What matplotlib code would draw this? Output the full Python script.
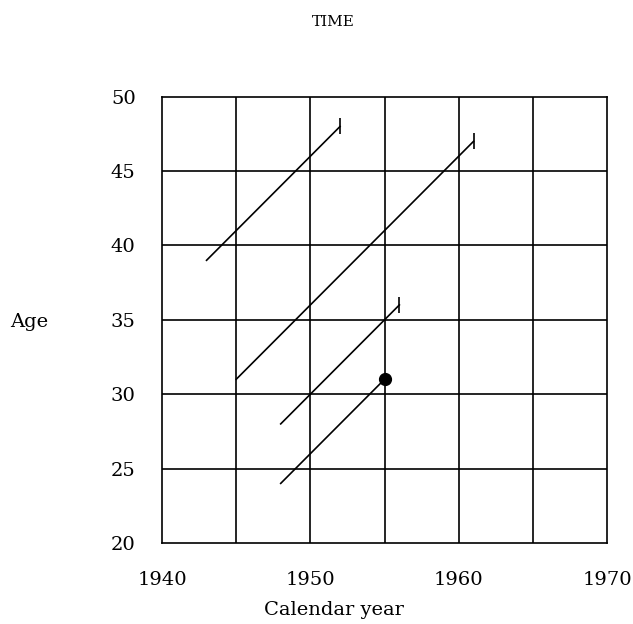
import matplotlib
matplotlib.use("Agg")
import matplotlib.pyplot as plt

# Lexis diagram data: life lines (entry year, entry age) -> (exit year, exit age)
entry_year = [1943, 1945, 1948, 1948]
entry_age = [39, 31, 28, 24]
exit_year = [1952, 1961, 1956, 1955]
exit_age = [48, 47, 36, 31]
exit_event = [False, False, False, True]  # True = event (dot), False = censored (tick)

xticks = [1940, 1950, 1960, 1970]
yticks = [20, 25, 30, 35, 40, 45, 50]
grid_x = [1945, 1950, 1955, 1960, 1965]

plt.rcParams['font.family'] = ['DejaVu Serif']

fig = plt.figure(figsize=(6.33, 6.24), dpi=100)
ax = fig.add_axes([0.256, 0.13, 0.703, 0.715])
ax.set_xlim(1940, 1970)
ax.set_ylim(20, 50)

for gx in grid_x:
    ax.axvline(gx, color='black', lw=1.2)
for gy in yticks[1:-1]:
    ax.axhline(gy, color='black', lw=1.2)

for x0, y0, x1, y1, ev in zip(entry_year, entry_age, exit_year, exit_age, exit_event):
    ax.plot([x0, x1], [y0, y1], color='black', lw=1.2)
    if ev:
        ax.plot([x1], [y1], 'o', color='black', markersize=8.5)
    else:
        ax.plot([x1], [y1], marker='|', color='black', markersize=11, markeredgewidth=1.2)

for s in ax.spines.values():
    s.set_linewidth(1.2)

ax.set_xticks(xticks)
ax.set_yticks(yticks)
ax.tick_params(length=0, labelsize=14)
ax.tick_params(axis='y', pad=19)
ax.tick_params(axis='x', pad=20)

fig.text(0.527, 0.022, 'Calendar year', fontsize=14, ha='center', va='center')
fig.text(0.016, 0.484, 'Age', fontsize=14, ha='left', va='center')
fig.text(0.527, 0.965, 'TIME', fontsize=11, ha='center', va='center')

fig.savefig('out.png', dpi=100)
